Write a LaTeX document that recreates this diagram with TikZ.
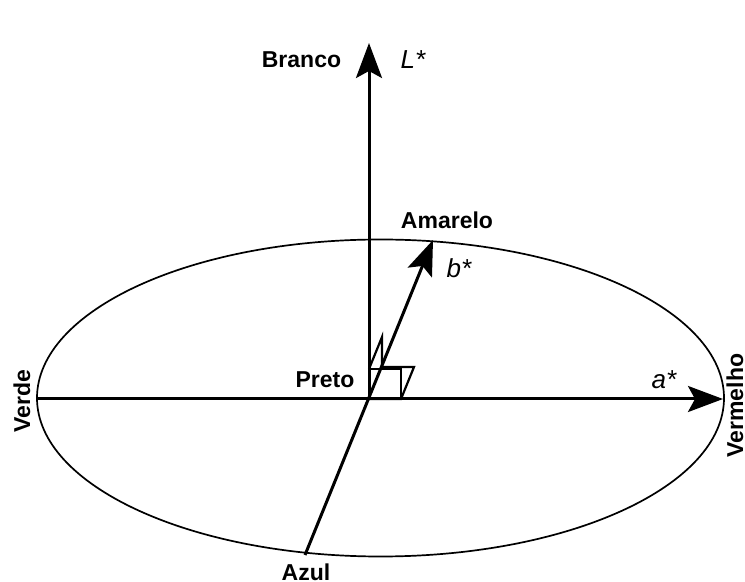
\documentclass[tikz,border=0pt]{standalone}
\usepackage{fontspec}
\setmainfont{Liberation Sans}
\usetikzlibrary{arrows.meta}
\tikzset{
  axis/.style={draw=black, line width=1.5pt, -{Stealth[length=17.5pt,width=13pt,inset=3.5pt]}},
  rim/.style={draw=black, line width=0.85pt},
  rightmark/.style={draw=black, line width=1.1pt, line join=miter},
  pole/.style={font=\fontsize{11.5}{13}\selectfont\bfseries, inner sep=0pt},
  axlabel/.style={font=\fontsize{13}{15}\selectfont\itshape, inner sep=0pt},
}
\begin{document}
\begin{tikzpicture}[x=0.5pt,y=-0.5pt]
\useasboundingbox (0,0) rectangle (745,582);
\coordinate (O) at (369,399);
\coordinate (Ltip) at (369,43);
\coordinate (atip) at (723,399);
\coordinate (btip) at (433,240);
\coordinate (bfoot) at (305,555);
\coordinate (Left) at (37,399);
\draw[rim] (380.5,398) ellipse [x radius=343.5, y radius=158.5];
\draw[rightmark] (O) rectangle ++(32,-30);
\draw[rightmark] (O) -- ++(32,0) -- ++(13,-32) -- ++(-32,0);
\draw[rightmark] (O) ++(0,-30) -- ++(13,-32) -- ++(0,30);
\draw[axis] (O) -- (Ltip);
\draw[axis] (Left) -- (atip);
\draw[axis] (bfoot) -- (btip);
\node[pole] (branco) at (301.5,59.5) {Branco};
\node[axlabel] (lstar) at (413,59.5) {L*};
\node[pole] (amarelo) at (447,220.5) {Amarelo};
\node[axlabel] (bstar) at (459,268) {b*};
\node[pole] (preto) at (325,380) {Preto};
\node[axlabel] (astar) at (664,380) {a*};
\node[pole] (azul) at (306,572) {Azul};
\node[pole, rotate=90, anchor=north] (verde) at (13,401) {Verde};
\node[pole, rotate=90, anchor=north] (vermelho) at (726,405.5) {Vermelho};
\end{tikzpicture}
\end{document}
